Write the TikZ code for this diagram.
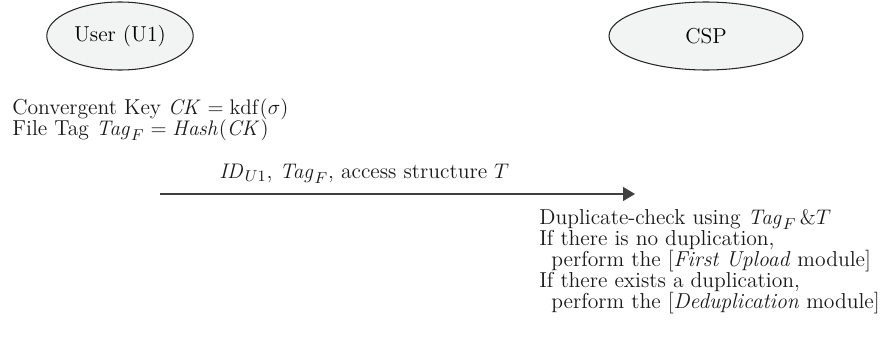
\documentclass[tikz,border=0pt]{standalone}
\usepackage{amsmath}
\usepackage{amssymb}
\usepackage{xcolor}
\usetikzlibrary{shapes.geometric,arrows.meta,positioning,calc}

\definecolor{partyfill}{RGB}{242,243,243}
\tikzset{
  party/.style={ellipse,draw=black!85,semithick,fill=partyfill,minimum height=1.36cm,font=\fontsize{12.3}{12}\selectfont},
  steptext/.style={align=left,inner sep=0pt,text=black!90,font=\fontsize{12.3}{12}\selectfont},
  msg/.style={-{Triangle[length=0.24cm,width=0.28cm]},black!75,thick}
}

\begin{document}
\begin{tikzpicture}
            \useasboundingbox (0,0) rectangle (17.62,-6.9);

            % Parties
            \node[party,minimum width=2.8cm] (user) at (2.40,-0.72) {User (U1)};
            \node[party,minimum width=3.88cm] (csp) at (14.12,-0.72) {CSP};

            % User side computation
            \node[steptext,anchor=north west] (keygen) at (0.24,-1.96)
              {Convergent Key $\mathit{CK}=\mathrm{kdf}(\sigma)$\\
               File Tag $\mathit{Tag}_F=\mathit{Hash}(\mathit{CK})$};

            % Upload request
            \coordinate (sendfrom) at (3.2,-3.88);
            \coordinate (sendto) at (12.7,-3.88);
            \draw[msg] (sendfrom) -- (sendto)
              node[steptext,pos=0.43,above=0.2cm] (req) {$\mathit{ID}_{U1}$, $\mathit{Tag}_F$, access structure $T$};

            % CSP side check
            \node[steptext,anchor=north west] (check) at (10.78,-4.18)
              {Duplicate-check using $\mathit{Tag}_F\,\&T$\\
               If there is no duplication,\\
               \hspace*{0.24cm}perform the [\textit{First Upload} module]\\
               If there exists a duplication,\\
               \hspace*{0.24cm}perform the [\textit{Deduplication} module]};
\end{tikzpicture}
\end{document}
